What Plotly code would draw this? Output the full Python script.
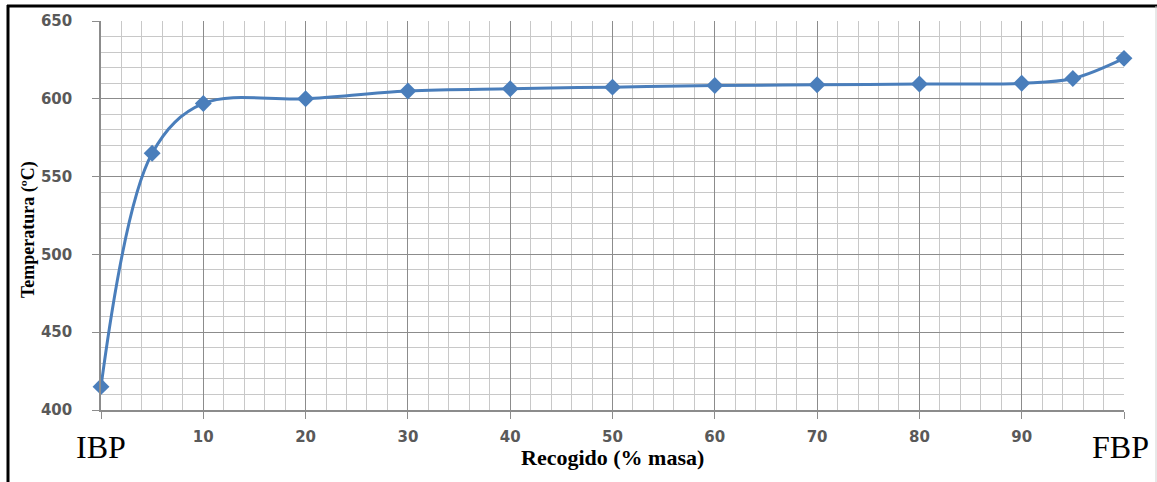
import plotly.graph_objects as go

recogido = [0, 5, 10, 20, 30, 40, 50, 60, 70, 80, 90, 95, 100]
temperatura = [415, 565, 597, 600, 605, 606.5, 607.5, 608.5, 609, 609.5, 610, 613, 626]
x_tickvals = [0, 10, 20, 30, 40, 50, 60, 70, 80, 90, 100]
x_ticktext = ["", "10", "20", "30", "40", "50", "60", "70", "80", "90", ""]
y_tickvals = [400, 450, 500, 550, 600, 650]

W, H = 1157, 482
L, R, T, B = 101, 33, 21, 72
pw, ph = W - L - R, H - T - B

def px(x):
    return (x - L) / pw

def py(y):
    return (H - B - y) / ph

blue = "#4A7EBB"

fig = go.Figure()
fig.add_trace(go.Scatter(
    x=recogido, y=temperatura, mode="lines+markers",
    line=dict(color=blue, width=3, shape="spline", smoothing=1),
    marker=dict(symbol="diamond", size=13, color=blue),
    cliponaxis=False, showlegend=False,
))

tickfont = dict(family="DejaVu Sans", size=15, color="#595959", weight="bold")
fig.update_layout(
    width=W, height=H,
    margin=dict(l=L, r=R, t=T, b=B),
    paper_bgcolor="white", plot_bgcolor="white",
    xaxis=dict(
        range=[0, 100], tickvals=x_tickvals, ticktext=x_ticktext,
        showgrid=True, gridcolor="#8c8c8c", gridwidth=1,
        minor=dict(dtick=2, tick0=0, showgrid=True, gridcolor="#c8c8c8", gridwidth=1),
        showline=True, linecolor="#8c8c8c", linewidth=1.5,
        ticks="outside", ticklen=7, tickcolor="#8c8c8c",
        tickfont=tickfont, ticklabelstandoff=5, zeroline=False,
    ),
    yaxis=dict(
        range=[400, 650], tickvals=y_tickvals,
        showgrid=True, gridcolor="#8c8c8c", gridwidth=1,
        minor=dict(dtick=10, tick0=400, showgrid=True, gridcolor="#c8c8c8", gridwidth=1),
        showline=True, linecolor="#8c8c8c", linewidth=1.5,
        ticks="outside", ticklen=7, tickcolor="#8c8c8c",
        tickfont=tickfont, ticklabelstandoff=17, zeroline=False,
    ),
)

def note(text, x, y, size, angle=0):
    fig.add_annotation(text=text, x=px(x), y=py(y), xref="paper", yref="paper",
                       xanchor="center", yanchor="middle", textangle=angle,
                       showarrow=False, font=dict(family="Liberation Serif", size=size, color="black"))

note("<b>Recogido (% masa)</b>", 612, 458, 22)
note("<b>Temperatura (ºC)</b>", 28, 230, 18, -90)
note("IBP", 101, 447, 32)
note("FBP", 1120, 447, 32)

# frame
fig.add_shape(type="line", xref="paper", yref="paper", x0=px(8), x1=px(8), y0=py(5), y1=py(485),
              line=dict(color="black", width=3))
fig.add_shape(type="line", xref="paper", yref="paper", x0=px(7), x1=px(1160), y0=py(6), y1=py(6),
              line=dict(color="black", width=3))
fig.add_shape(type="line", xref="paper", yref="paper", x0=px(1156), x1=px(1156), y0=py(6), y1=py(485),
              line=dict(color="#d0d0d0", width=1))

fig.write_html("out.html")
